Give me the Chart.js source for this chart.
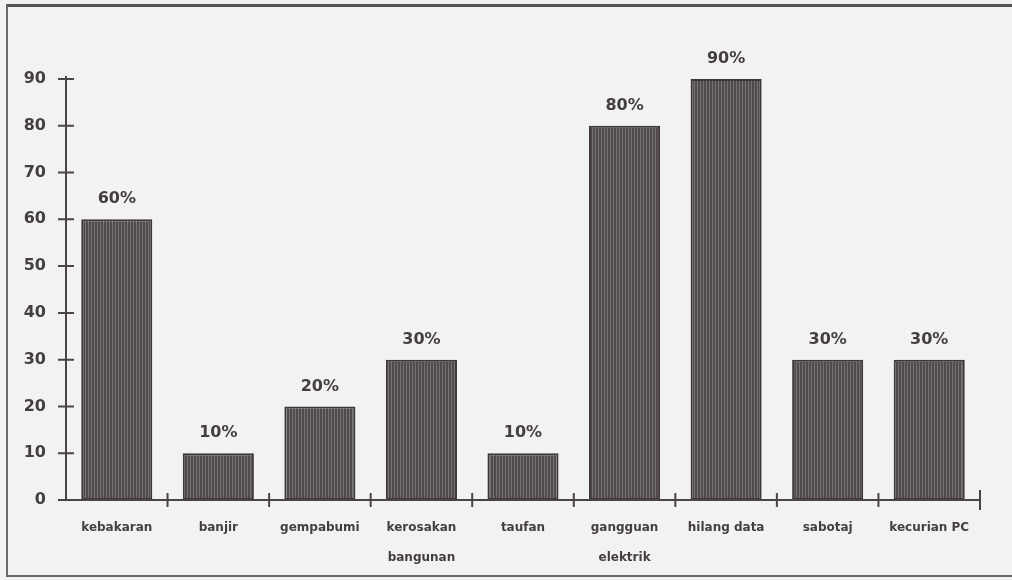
<!DOCTYPE html>
<html>
<head>
<meta charset="utf-8">
<script src="https://cdn.jsdelivr.net/npm/chart.js@4.4.1/dist/chart.umd.min.js"></script>
<style>
  html, body { margin: 0; padding: 0; background: #f2f1f4; }
  #wrap { position: relative; width: 1012px; height: 580px; overflow: hidden; }
  #frame {
    position: absolute; left: 6px; top: 4px; right: -4px; bottom: 3px;
    border-left: 2px solid #6d686b; border-top: 3px solid #575255; border-bottom: 2px solid #6d686b;
  }
  #chart { position: absolute; left: 0; top: 0; }
</style>
</head>
<body>
<div id="wrap">
  <div id="frame"></div>
  <canvas id="chart" width="1012" height="580"></canvas>
</div>
<script>
const categories = [
  "kebakaran", "banjir", "gempabumi", ["kerosakan", "bangunan"], "taufan",
  ["gangguan", "elektrik"], "hilang data", "sabotaj", "kecurian PC"
];
const percentages = [60, 10, 20, 30, 10, 80, 90, 30, 30];
const yTicks = [0, 10, 20, 30, 40, 50, 60, 70, 80, 90];

const INK = "#443e41";
const AXIS = "#4a4447";

// vertical hatching used for the bars
function stripes(dark, light) {
  const c = document.createElement("canvas");
  c.width = 3; c.height = 4;
  const g = c.getContext("2d");
  g.fillStyle = dark; g.fillRect(0, 0, 3, 4);
  g.fillStyle = light; g.fillRect(1, 0, 1, 4);
  return document.getElementById("chart").getContext("2d").createPattern(c, "repeat");
}
const hatch = stripes("#504a4d", "#787275");

// axis lines with ticks that cross the axis
const crossAxes = {
  id: "crossAxes",
  afterDatasetsDraw(chart) {
    const { ctx, chartArea: a, scales: { y } } = chart;
    const step = (a.right - a.left) / categories.length;
    ctx.save();
    ctx.strokeStyle = AXIS;
    ctx.lineWidth = 2;
    ctx.beginPath();
    ctx.moveTo(a.left, a.top - 3);
    ctx.lineTo(a.left, a.bottom);
    ctx.moveTo(a.left - 8, a.bottom);
    ctx.lineTo(a.right, a.bottom);
    yTicks.forEach(v => {
      const py = y.getPixelForValue(v);
      ctx.moveTo(a.left - 8, py);
      ctx.lineTo(a.left + 8, py);
    });
    for (let i = 1; i <= categories.length; i++) {
      const px = a.left + step * i;
      const h = i === categories.length ? 10 : 7;
      ctx.moveTo(px, a.bottom - h);
      ctx.lineTo(px, a.bottom + h);
    }
    ctx.stroke();
    ctx.restore();
  }
};

// percentage above each bar
const valueLabels = {
  id: "valueLabels",
  afterDatasetsDraw(chart) {
    const ctx = chart.ctx;
    const meta = chart.getDatasetMeta(0);
    ctx.save();
    ctx.font = "bold 16px 'DejaVu Sans'";
    ctx.fillStyle = INK;
    ctx.textAlign = "center";
    ctx.textBaseline = "middle";
    meta.data.forEach((bar, i) => {
      ctx.fillText(percentages[i] + "%", bar.x, bar.y - 20);
    });
    ctx.restore();
  }
};

new Chart(document.getElementById("chart"), {
  type: "bar",
  data: {
    labels: categories,
    datasets: [{
      data: percentages,
      backgroundColor: hatch,
      borderColor: "#3e383b",
      borderWidth: 2,
      borderSkipped: false,
      barPercentage: 0.7,
      categoryPercentage: 1.0
    }]
  },
  options: {
    responsive: false,
    animation: false,
    devicePixelRatio: 1,
    layout: { padding: { top: 79, right: 32, bottom: 0, left: 0 } },
    plugins: { legend: { display: false }, tooltip: { enabled: false } },
    scales: {
      x: {
        grid: { display: false },
        border: { display: false },
        ticks: {
          color: INK,
          autoSkip: false,
          maxRotation: 0,
          padding: 5,
          font: { family: "'DejaVu Sans'", size: 12, weight: "bold", lineHeight: 2.5 }
        },
        afterFit(s) { s.height = 80; }
      },
      y: {
        min: 0,
        max: 90,
        grid: { display: false },
        border: { display: false },
        ticks: {
          stepSize: 10,
          color: INK,
          padding: 12,
          font: { family: "'DejaVu Sans'", size: 16, weight: "bold" }
        },
        afterFit(s) { s.width = 66; }
      }
    }
  },
  plugins: [crossAxes, valueLabels]
});
</script>
</body>
</html>
